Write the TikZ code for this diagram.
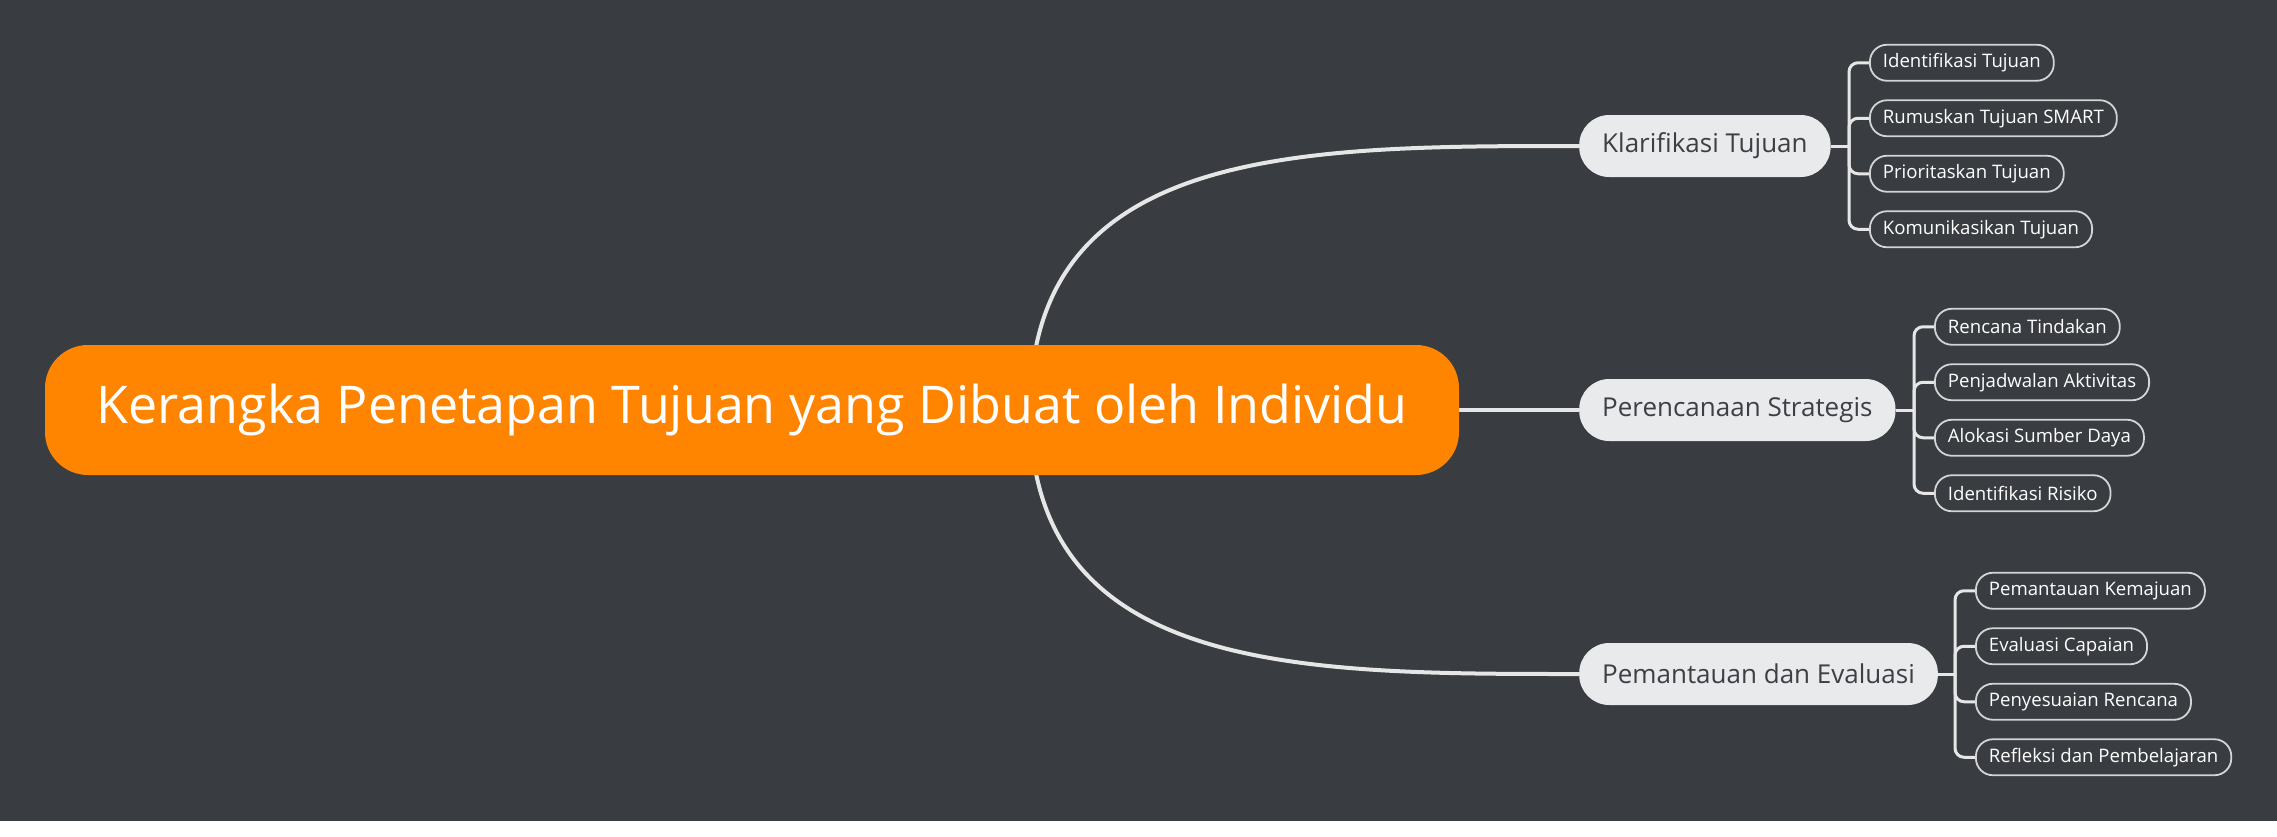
\documentclass[tikz,border=0pt]{standalone}
\usepackage{fontspec}
\setmainfont{Open Sans}
\usetikzlibrary{positioning}
\definecolor{bgdark}{HTML}{393C41}
\definecolor{rootorange}{HTML}{FF8400}
\definecolor{topicfill}{HTML}{E9EAEC}
\definecolor{topictext}{HTML}{3C3F44}
\definecolor{linegray}{HTML}{E6E6E6}
\definecolor{leafborder}{HTML}{D4D4D4}
\pgfdeclarelayer{back}
\pgfdeclarelayer{lines}
\pgfsetlayers{back,lines,main}

\begin{document}
\begin{tikzpicture}[x=1pt, y=-1pt,
  root/.style={fill=rootorange, text=white, rounded corners=43pt, minimum width=1414pt,
    minimum height=130pt, inner sep=0pt, font=\fontsize{52}{62}\selectfont},
  topic/.style={fill=topicfill, text=topictext, rounded corners=30pt, minimum height=62pt,
    inner xsep=23pt, inner ysep=0pt, anchor=west, font=\fontsize{26}{31}\selectfont},
  leaf/.style={draw=leafborder, line width=1.8pt, text=white, rounded corners=17pt,
    minimum height=36pt, inner xsep=13pt, inner ysep=0pt, anchor=west,
    font=\fontsize{18.6}{22}\selectfont},
  trunk/.style={draw=linegray, line width=4pt},
  twig/.style={draw=linegray, line width=3pt, rounded corners=9pt}]

\begin{pgfonlayer}{back}
\fill[white] (0,0) rectangle (2277,836);
\fill[bgdark] (0,0) rectangle (2277,821);
\end{pgfonlayer}
\useasboundingbox (0,0) rectangle (2277,836);

% main topic
\node[root] (root) at (752,410) {Kerangka Penetapan Tujuan yang Dibuat oleh Individu};

% first level
\node[topic] (k) at (1579,146) {Klarifikasi Tujuan};
\node[topic] (s) at (1579,410) {Perencanaan Strategis};
\node[topic] (p) at (1579,674) {Pemantauan dan Evaluasi};

% second level
\foreach \t [count=\i] in {Identifikasi Tujuan, Rumuskan Tujuan SMART, Prioritaskan Tujuan, Komunikasikan Tujuan}
  \node[leaf] (k\i) at (1869, {146+55.5*(\i-2.5)}) {\t};
\foreach \t [count=\i] in {Rencana Tindakan, Penjadwalan Aktivitas, Alokasi Sumber Daya, Identifikasi Risiko}
  \node[leaf] (s\i) at (1934, {410+55.5*(\i-2.5)}) {\t};
\foreach \t [count=\i] in {Pemantauan Kemajuan, Evaluasi Capaian, Penyesuaian Rencana, Refleksi dan Pembelajaran}
  \node[leaf] (p\i) at (1975, {674+55.5*(\i-2.5)}) {\t};

% connectors
\begin{pgfonlayer}{lines}
\coordinate (fork) at (1030,410);
\draw[trunk] (fork) .. controls +(0,-264) and +(-280,0) .. (k.west);
\draw[trunk] (root.east) -- (s.west);
\draw[trunk] (fork) .. controls +(0,264) and +(-280,0) .. (p.west);
\foreach \g in {k,s,p} {
  \path (\g.east -| \g1.west) ++(-20,0) coordinate (\g b);
  \draw[twig] (\g.east) -- (\g b);
  \foreach \i in {1,...,4}
    \draw[twig] (\g b) |- (\g\i.west);
}
\end{pgfonlayer}
\end{tikzpicture}
\end{document}
